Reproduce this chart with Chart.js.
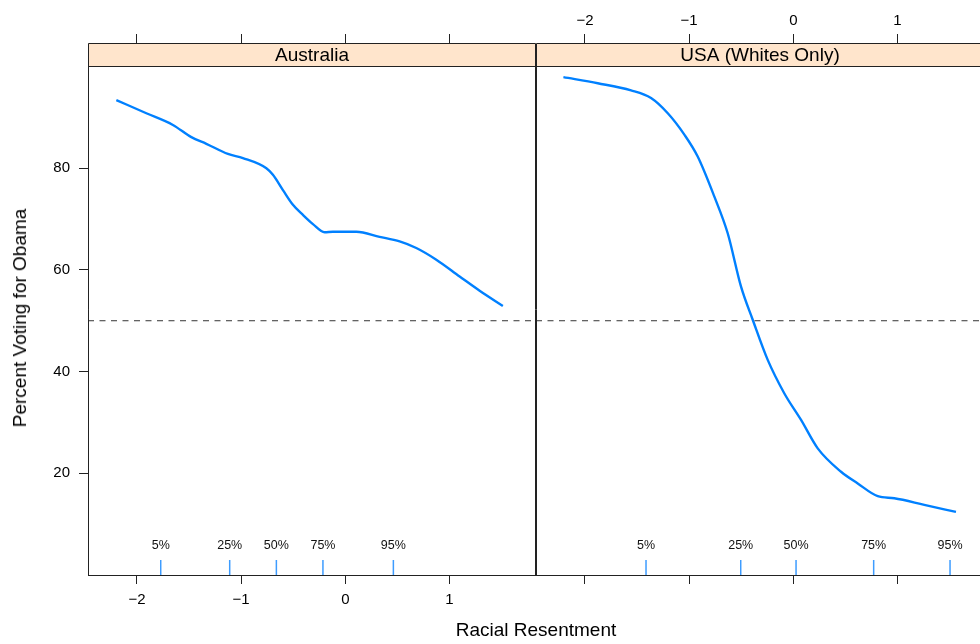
<!DOCTYPE html>
<html>
<head>
<meta charset="utf-8">
<script src="https://cdn.jsdelivr.net/npm/chart.js@4.4.1/dist/chart.umd.min.js"></script>
<style>
  html, body { margin: 0; padding: 0; background: #fff; }
  #wrap { position: relative; width: 980px; height: 644px; overflow: hidden; background: #fff;
          font-family: "Liberation Sans", Arial, Helvetica, sans-serif; color: #000; }
  canvas { position: absolute; left: 0; top: 0; }
  #xt { position: absolute; left: 536px; top: 630px; transform: translate(-50%, -50%);
        font-size: 19px; white-space: nowrap; }
  #yt { position: absolute; left: 20px; top: 318px; transform: translate(-50%, -50%) rotate(-90deg);
        font-size: 19px; white-space: nowrap; }
</style>
</head>
<body>
<div id="wrap">
  <canvas id="c1" width="980" height="644"></canvas>
  <canvas id="c2" width="990" height="644"></canvas>
  <div id="xt">Racial Resentment</div>
  <div id="yt">Percent Voting for Obama</div>
</div>
<script>
// ---------------- data ----------------
const panelNames = ["Australia", "USA (Whites Only)"];

const ausX = [-2.198, -1.910, -1.655, -1.478, -1.334, -1.127, -0.983, -0.758, -0.695, -0.599, -0.503, -0.407, -0.311, -0.199, -0.119, 0.106, 0.329, 0.521, 0.681, 0.873, 1.097, 1.289, 1.512];
const ausY = [93.4, 90.8, 88.5, 86.1, 84.8, 82.8, 82.0, 80.0, 78.7, 75.7, 72.8, 70.8, 69.0, 67.4, 67.5, 67.5, 66.5, 65.6, 64.3, 62.0, 58.7, 55.9, 52.9];

const usaX = [-2.207, -1.877, -1.558, -1.366, -1.205, -1.046, -0.918, -0.758, -0.630, -0.502, -0.390, -0.246, -0.086, 0.074, 0.234, 0.458, 0.618, 0.810, 0.969, 1.257, 1.561];
const usaY = [97.9, 96.7, 95.3, 93.8, 90.8, 86.6, 82.3, 74.4, 67.2, 56.7, 50.2, 42.3, 35.7, 30.5, 24.9, 20.3, 18.0, 15.5, 15.1, 13.8, 12.4];

const quantileLabels = ["5%", "25%", "50%", "75%", "95%"];
const ausQuantiles = [-1.772, -1.110, -0.662, -0.215, 0.461];
const usaQuantiles = [-1.414, -0.505, 0.026, 0.771, 1.504];

const xTicks = [-2, -1, 0, 1];
const yTicks = [20, 40, 60, 80];
const refLevel = 50;

const xRange = [-2.47, 1.83];
const yRange = [0, 104.62];
const rugTop = 2.95;
const qLabelY = 5.7;

// ---------------- styling constants ----------------
const FONT = '"Liberation Sans", Arial, Helvetica, sans-serif';
const LINE_COL = '#0080ff';
const RUG_COL = '#3d9cff';
const AXIS_COL = '#222';
const STRIP_H = 23;

function fmt(v) { return v < 0 ? '\u2212' + Math.abs(v) : String(v); }

const panelPlugin = {
  id: 'panelFrame',
  beforeDatasetsDraw(chart, args, opts) {
    const { ctx, chartArea: a } = chart;
    ctx.save();
    ctx.fillStyle = '#ffe5cc';
    ctx.fillRect(a.left, a.top, a.right - a.left, STRIP_H);
    ctx.restore();
  },
  afterDraw(chart, args, opts) {
    const { ctx, chartArea: a } = chart;
    ctx.save();
    ctx.strokeStyle = AXIS_COL;
    ctx.lineWidth = 1;
    const L = Math.round(a.left) + 0.5, R = Math.round(a.right) - 0.5;
    const T = Math.round(a.top) + 0.5, B = Math.round(a.bottom) + 0.5;
    const S = Math.round(a.top + STRIP_H) + 0.5;
    ctx.beginPath();
    ctx.moveTo(L, T); ctx.lineTo(R, T); ctx.lineTo(R, B); ctx.lineTo(L, B); ctx.closePath();
    ctx.moveTo(L, S); ctx.lineTo(R, S);
    ctx.stroke();
    // strip text
    ctx.fillStyle = '#000';
    ctx.font = '19px ' + FONT;
    ctx.textAlign = 'center';
    ctx.textBaseline = 'middle';
    ctx.fillText(opts.title, (a.left + a.right) / 2, a.top + STRIP_H / 2 + 1);
    // quantile labels
    const xs = chart.scales.x, ys = chart.scales.y;
    ctx.font = '12.5px ' + FONT;
    ctx.fillStyle = '#111';
    opts.qvals.forEach((q, i) => {
      ctx.fillText(quantileLabels[i], xs.getPixelForValue(q), ys.getPixelForValue(qLabelY));
    });
    ctx.restore();
  }
};

function makeChart(canvasId, name, xs, ys, qs, cfg) {
  const curve = xs.map((x, i) => ({ x: x, y: ys[i] }));
  const datasets = [
    {
      data: [{ x: xRange[0], y: refLevel }, { x: xRange[1], y: refLevel }],
      borderColor: '#333', borderWidth: 1, borderDash: [6, 5.5],
      pointRadius: 0, showLine: true, tension: 0
    },
    {
      data: curve, borderColor: LINE_COL, borderWidth: 2.4,
      pointRadius: 0, showLine: true, cubicInterpolationMode: 'monotone'
    }
  ];
  qs.forEach(q => {
    datasets.push({
      data: [{ x: q, y: yRange[0] }, { x: q, y: rugTop }],
      borderColor: RUG_COL, borderWidth: 1.5, pointRadius: 0, showLine: true, tension: 0
    });
  });

  const tickCb = v => fmt(v);
  const setXTicks = s => { s.ticks = xTicks.map(v => ({ value: v })); };

  return new Chart(document.getElementById(canvasId), {
    type: 'scatter',
    data: { datasets },
    options: {
      responsive: false,
      animation: false,
      devicePixelRatio: 1,
      layout: { padding: cfg.padding },
      plugins: {
        legend: { display: false },
        tooltip: { enabled: false },
        panelFrame: { title: name, qvals: qs }
      },
      scales: {
        x: {
          type: 'linear', position: 'bottom', min: xRange[0], max: xRange[1],
          afterBuildTicks: setXTicks,
          afterFit: s => { s.height = 69; },
          grid: { drawOnChartArea: false, drawTicks: true, tickLength: 9, tickColor: AXIS_COL },
          border: { display: true, color: AXIS_COL, width: 1 },
          ticks: { display: cfg.bottomLabels, padding: 7, color: '#000', font: { family: FONT, size: 15 },
                   callback: tickCb, maxRotation: 0, autoSkip: false }
        },
        xTop: {
          type: 'linear', position: 'top', min: xRange[0], max: xRange[1],
          afterBuildTicks: setXTicks,
          afterFit: s => { s.height = 43; },
          grid: { drawOnChartArea: false, drawTicks: true, tickLength: 9, tickColor: AXIS_COL },
          border: { display: true, color: AXIS_COL, width: 1 },
          ticks: { display: cfg.topLabels, padding: 4, color: '#000', font: { family: FONT, size: 15 },
                   callback: tickCb, maxRotation: 0, autoSkip: false }
        },
        y: {
          type: 'linear', position: 'left', min: yRange[0], max: yRange[1],
          display: cfg.showY,
          afterBuildTicks: s => { s.ticks = yTicks.map(v => ({ value: v })); },
          afterFit: s => { if (cfg.showY) s.width = 88; },
          grid: { drawOnChartArea: false, drawTicks: true, tickLength: 9, tickColor: AXIS_COL },
          border: { display: true, color: AXIS_COL, width: 1 },
          ticks: { padding: 9, color: '#000', font: { family: FONT, size: 15 }, callback: v => String(v) }
        }
      }
    },
    plugins: [panelPlugin]
  });
}

makeChart('c1', panelNames[0], ausX, ausY, ausQuantiles,
  { padding: { left: 0, right: 444, top: 0, bottom: 0 }, bottomLabels: true, topLabels: false, showY: true });
makeChart('c2', panelNames[1], usaX, usaY, usaQuantiles,
  { padding: { left: 536, right: 6, top: 0, bottom: 0 }, bottomLabels: false, topLabels: true, showY: false });
</script>
</body>
</html>
